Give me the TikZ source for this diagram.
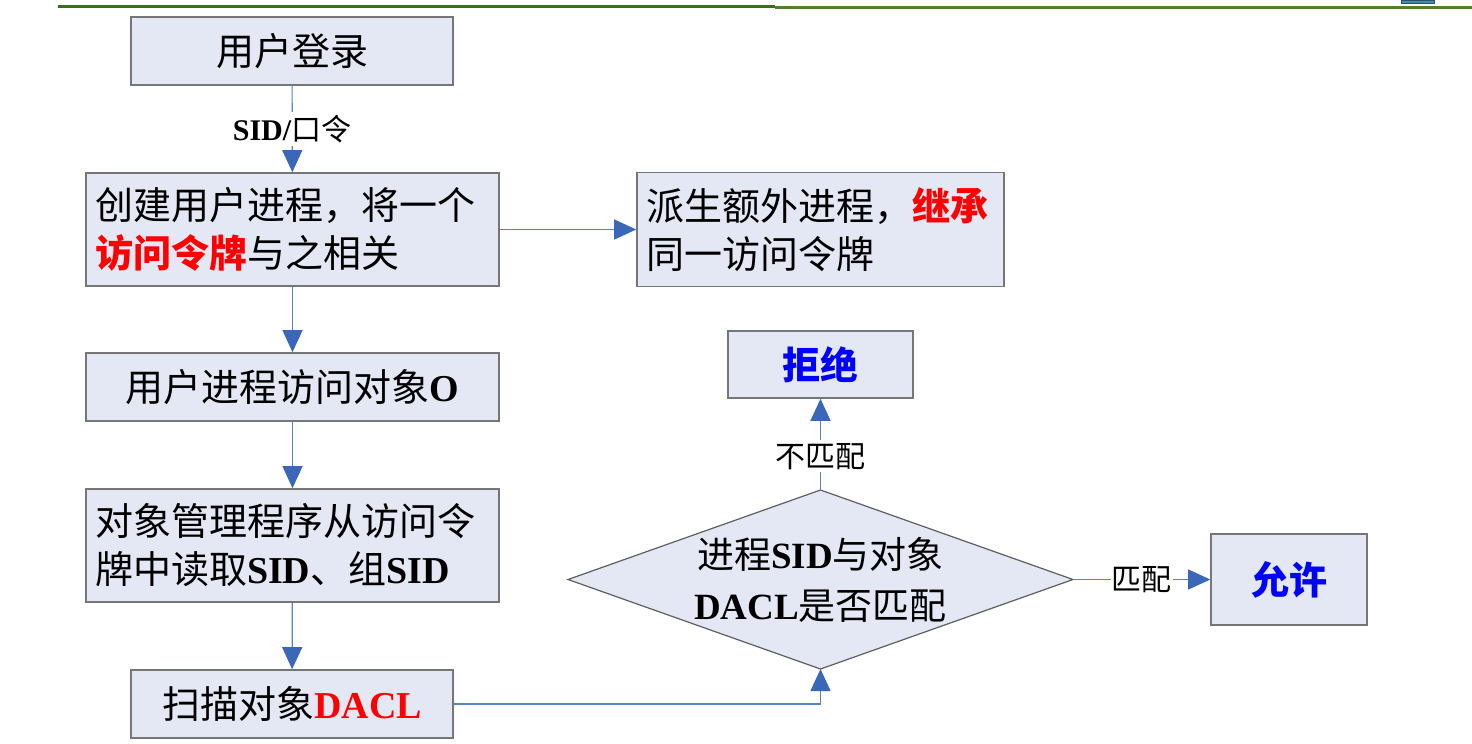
\documentclass[tikz,border=0pt]{standalone}
\usepackage{fontspec}
\setmainfont{Liberation Serif}
\newfontfamily\cjk{Noto Sans CJK SC}
\usetikzlibrary{arrows.meta}
\definecolor{boxfill}{RGB}{227,232,244}
\definecolor{boxline}{RGB}{118,118,118}
\definecolor{connc}{RGB}{84,131,200}
\definecolor{tipc}{RGB}{58,103,184}
\definecolor{topgreen}{RGB}{58,110,28}
\definecolor{topgreenb}{RGB}{80,130,45}
\definecolor{myblue}{RGB}{0,0,255}
\definecolor{tealbox}{RGB}{70,140,170}
\newcommand\zh[1]{{\cjk #1}}
\begin{document}
\begin{tikzpicture}[x=1pt,y=-1pt,
  flowbox/.style={draw=boxline, line width=1.6pt, fill=boxfill, inner sep=0pt, font=\fontsize{38}{48}\selectfont},
  conn/.style={draw=connc, line width=1.2pt, -{Triangle[width=20pt,length=22pt,color=tipc]}},
  lbl/.style={fill=white, inner sep=3pt, font=\fontsize{30}{36}\selectfont},
  dtext/.style={inner sep=0pt, align=center, font=\fontsize{37}{51}\selectfont}]
\useasboundingbox (0,0) rectangle (1472,744);
% top rule
\draw[topgreen, line width=3pt] (58,6.5) -- (775,6.5);
\draw[topgreenb, line width=2.5pt] (775,7.5) -- (1472,7.5);
\filldraw[fill=tealbox, draw=tealbox!60!black, line width=0.8pt] (1401,0) rectangle (1434,3.5);
% boxes
\node[flowbox, minimum width=322pt, minimum height=68pt] (login) at (292,51) {\zh{用户登录}};
\node[flowbox, minimum width=413pt, minimum height=113pt, text width=395pt, align=left] (create) at (292.5,229.5)
  {\zh{创建用户进程，将一个}\\{\color{red}\bfseries\zh{访问令牌}}\zh{与之相关}};
\node[flowbox, minimum width=367pt, minimum height=114pt, text width=349pt, align=left] (spawn) at (820.5,229.5)
  {\zh{派生额外进程，}{\color{red}\bfseries\zh{继承}}\\\zh{同一访问令牌}};
\node[flowbox, minimum width=413pt, minimum height=68pt] (access) at (292.5,387) {\zh{用户进程访问对象}\textbf{O}};
\node[flowbox, minimum width=413pt, minimum height=113pt, text width=395pt, align=left] (read) at (292.5,545.5)
  {\zh{对象管理程序从访问令}\\\zh{牌中读取}\textbf{SID}\zh{、组}\textbf{SID}};
\node[flowbox, minimum width=322pt, minimum height=68pt] (scan) at (292,704) {\zh{扫描对象}{\color{red}\textbf{DACL}}};
\node[flowbox, minimum width=185pt, minimum height=67pt] (deny) at (820.5,364.5) {{\color{myblue}\bfseries\zh{拒绝}}};
\node[flowbox, minimum width=156pt, minimum height=91pt] (allow) at (1289,579.5) {{\color{myblue}\bfseries\zh{允许}}};
% diamond
\coordinate (dt) at (820.5,490);
\coordinate (dr) at (1073,579.5);
\coordinate (db) at (820.5,669);
\coordinate (dl) at (568,579.5);
\draw[draw=boxline!80!black, line width=1.2pt, fill=boxfill] (dt) -- (dr) -- (db) -- (dl) -- cycle;
\node[dtext] (check) at (820.5,579.5) {\zh{进程}\textbf{SID}\zh{与对象}\\\textbf{DACL}\zh{是否匹配}};
% connectors
\draw[conn] (login) -- node[lbl] (lsid) {\textbf{SID/}\zh{口令}} (create);
\draw[conn] (create.east) -- (create.east -| spawn.west);
\draw[conn] (create) -- (access);
\draw[conn] (access) -- (read);
\draw[conn] (read) -- (scan);
\draw[conn] (scan.east) -| (db);
\draw[conn] (dt) -- node[lbl, pos=0.37] (lno) {\zh{不匹配}} (deny.south);
\draw[conn] (dr) -- node[lbl, inner xsep=1pt] (lyes) {\zh{匹配}} (allow.west);
\end{tikzpicture}
\end{document}
